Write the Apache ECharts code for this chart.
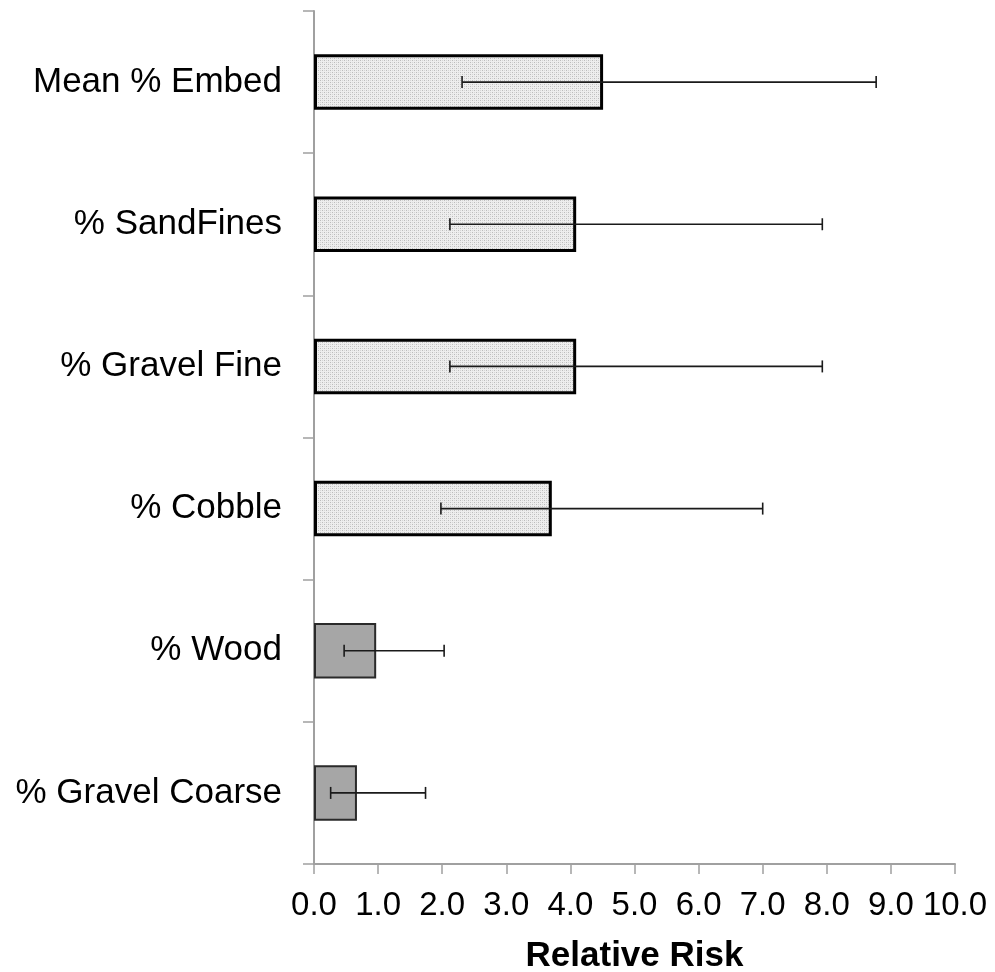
<!DOCTYPE html>
<html>
<head>
<meta charset="utf-8">
<script src="https://cdn.jsdelivr.net/npm/echarts@6/dist/echarts.min.js"></script>
<style>
html,body{margin:0;padding:0;background:#fff;}
#chart{width:995px;height:972px;}
</style>
</head>
<body>
<div id="chart"></div>
<script>
// Data (top to bottom)
var categories = ['Mean % Embed', '% SandFines', '% Gravel Fine', '% Cobble', '% Wood', '% Gravel Coarse'];
var relativeRisk = [4.51, 4.09, 4.09, 3.71, 0.97, 0.67];
var ciLow = [2.31, 2.12, 2.12, 1.98, 0.47, 0.26];
var ciHigh = [8.77, 7.93, 7.93, 7.00, 2.03, 1.74];
var patterned = [true, true, true, true, false, false];
var xTicks = [0, 1, 2, 3, 4, 5, 6, 7, 8, 9, 10];

// dotted pattern fill
var pc = document.createElement('canvas');
pc.width = 4; pc.height = 4;
var g = pc.getContext('2d');
g.fillStyle = '#eeeeee'; g.fillRect(0, 0, 4, 4);
g.fillStyle = '#bcbcbc'; g.fillRect(0, 0, 1, 1); g.fillRect(2, 2, 1, 1);
g.fillStyle = '#d6d6d6'; g.fillRect(2, 0, 1, 1); g.fillRect(0, 2, 1, 1);

var FONT = "'Liberation Sans', Arial, sans-serif";

var barData = relativeRisk.map(function (v, i) {
  return {
    value: v,
    itemStyle: patterned[i]
      ? { color: { image: pc, repeat: 'repeat' }, borderColor: '#000', borderWidth: 3 }
      : { color: '#a6a6a6', borderColor: '#2a2a2a', borderWidth: 2 }
  };
});
var errData = categories.map(function (c, i) { return [i, ciLow[i], ciHigh[i]]; });

var chart = echarts.init(document.getElementById('chart'), null, { renderer: 'canvas' });
chart.setOption({
  backgroundColor: '#fff',
  animation: false,
  grid: { left: 314, right: 40, top: 11, bottom: 108, containLabel: false, outerBoundsMode: 'none' },
  xAxis: {
    type: 'value',
    min: xTicks[0], max: xTicks[xTicks.length - 1], interval: 1,
    name: 'Relative Risk',
    nameLocation: 'middle',
    nameGap: 75,
    nameTextStyle: { fontFamily: FONT, fontSize: 35, fontWeight: 'bold', color: '#000' },
    axisLine: { show: true, lineStyle: { color: '#a0a0a0', width: 2 } },
    axisTick: { show: true, length: 10, lineStyle: { color: '#a0a0a0', width: 1.5 } },
    splitLine: { show: false },
    axisLabel: {
      margin: 25, fontFamily: FONT, fontSize: 33, color: '#000',
      formatter: function (v) { return v.toFixed(1); }
    }
  },
  yAxis: {
    type: 'category',
    data: categories,
    inverse: true,
    axisLine: { show: true, lineStyle: { color: '#a0a0a0', width: 2 } },
    axisTick: { show: true, length: 11, lineStyle: { color: '#a0a0a0', width: 1.5 } },
    axisLabel: { margin: 32, fontFamily: FONT, fontSize: 35, color: '#000' },
    splitLine: { show: false }
  },
  series: [
    {
      type: 'bar',
      data: barData,
      barWidth: '39%',
      z: 2
    },
    {
      type: 'custom',
      z: 5,
      data: errData,
      encode: { y: 0, x: [1, 2] },
      renderItem: function (params, api) {
        var idx = api.value(0);
        var p1 = api.coord([api.value(1), idx]);
        var p2 = api.coord([api.value(2), idx]);
        var h = 6;
        var st = { stroke: '#1a1a1a', lineWidth: 1.6 };
        return {
          type: 'group',
          children: [
            { type: 'line', shape: { x1: p1[0], y1: p1[1], x2: p2[0], y2: p2[1] }, style: st },
            { type: 'line', shape: { x1: p1[0], y1: p1[1] - h, x2: p1[0], y2: p1[1] + h }, style: st },
            { type: 'line', shape: { x1: p2[0], y1: p2[1] - h, x2: p2[0], y2: p2[1] + h }, style: st }
          ]
        };
      }
    }
  ]
});
</script>
</body>
</html>
